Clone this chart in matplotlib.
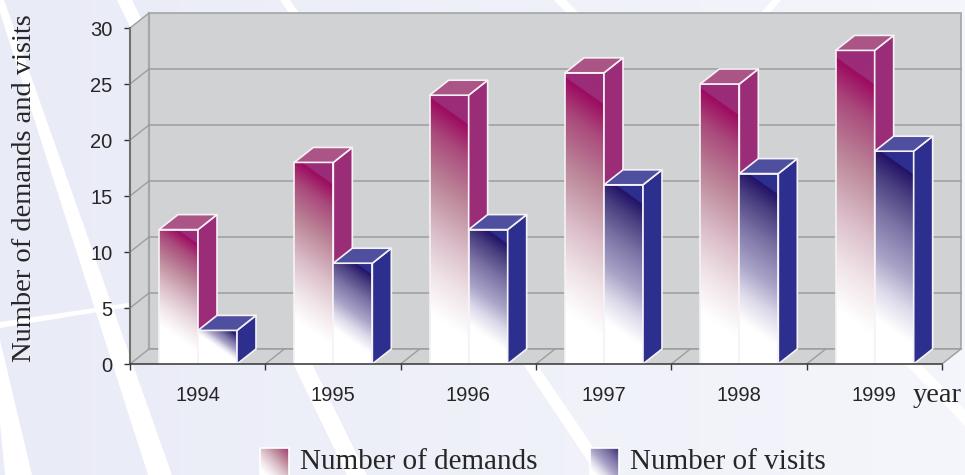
import matplotlib
matplotlib.use('Agg')
import matplotlib.pyplot as plt
import numpy as np
from matplotlib.colors import LinearSegmentedColormap, to_rgb
from matplotlib.patches import Polygon

years = ['1994', '1995', '1996', '1997', '1998', '1999']
demands = [12, 18, 24, 26, 25, 28]
visits = [3, 9, 12, 16, 17, 19]
y_ticks = [0, 5, 10, 15, 20, 25, 30]

W, H = 965, 475
SERIF = ['Liberation Serif', 'DejaVu Serif']
SANS = ['Liberation Sans', 'DejaVu Sans']
TEXT = '#262626'

# white ribbons of the page background, in pixels
ribbons = [
    [(-8, 340), (0, 340), (32, 475), (5, 475)],
    [(-4, 0), (4, 0), (172, 475), (148, 475)],
    [(117, 0), (132, 0), (367, 475), (347, 475)],
    [(280, 0), (290, 0), (612, 475), (597, 475)],
    [(554, 0), (566, 0), (965, 410), (965, 426)],
    [(772, 0), (781, 0), (769, 14), (760, 14)],
    [(0, 322), (135, 302), (135, 306), (0, 328)],
]

stops = [0, .12, .3, .5, .65, .8, 1]
demand_cmap = LinearSegmentedColormap.from_list('demand', list(zip(stops, [
    '#9c0a60', '#aa4a7c', '#bc8799', '#dcc0cb', '#f0e4e8', '#ffffff', '#ffffff'])))
visit_cmap = LinearSegmentedColormap.from_list('visit', list(zip(stops, [
    '#221266', '#4a3f80', '#7d74a6', '#aaa4c8', '#dcdaea', '#ffffff', '#ffffff'])))

fig = plt.figure(figsize=(W / 100, H / 100), dpi=100)

# page background + legend, pixel coordinates
bg = fig.add_axes([0, 0, 1, 1], zorder=0)
bg.set_xlim(0, W)
bg.set_ylim(H, 0)
bg.axis('off')
left_col = np.array(to_rgb('#e9ebf7'))
right_col = np.array(to_rgb('#f5f6fb'))
ramp = np.linspace(0, 1, 200)[None, :, None]
bg.imshow(left_col + (right_col - left_col) * ramp, extent=(0, W, H, 0), aspect='auto')
for pts in ribbons:
    bg.add_patch(Polygon(pts, closed=True, fc='white', ec='none'))
bg.set_xlim(0, W)
bg.set_ylim(H, 0)

# chart axes, one unit = one category / one demand
ax = fig.add_axes([130 / W, 1 - 364 / H, 812 / W, 336 / H], zorder=1)
ax.patch.set_alpha(0)
ax.set_xlim(0, 6)
ax.set_ylim(0, 30)
ax.set_autoscale_on(False)

px_x = 812 / 6
px_y = 336 / 30
DX = 19 / px_x
DY = 15 / px_y
BAR_W = 39 / px_x
BAR_OFF = 29 / px_x

# walls and floor
WALL = '#d1d2d4'
GRID = '#9c9d9f'
ax.add_patch(Polygon([(0, 0), (DX, DY), (DX, 30 + DY), (0, 30)], fc=WALL, ec='none', clip_on=False, zorder=1))
ax.add_patch(Polygon([(DX, DY), (6 + DX, DY), (6 + DX, 30 + DY), (DX, 30 + DY)], fc=WALL, ec='#a3a4a6', lw=1.2, clip_on=False, zorder=1))
ax.add_patch(Polygon([(0, 0), (6, 0), (6 + DX, DY), (DX, DY)], fc=WALL, ec='none', clip_on=False, zorder=1))
ax.plot([DX, DX], [DY, 30 + DY], color='#a6a7a9', lw=1.6, clip_on=False, zorder=2)
for v in y_ticks:
    ax.plot([0, DX], [v, v + DY], color=GRID, lw=1, clip_on=False, zorder=2)
    if v > 0 and v < 30:
        ax.plot([DX, 6 + DX], [v + DY, v + DY], color=GRID, lw=1.1, clip_on=False, zorder=2)
ax.plot([DX, 6 + DX], [DY, DY], color=GRID, lw=1.1, clip_on=False, zorder=2)
for i in range(1, 7):
    ax.plot([i, i + DX], [0, DY], color=GRID, lw=1, clip_on=False, zorder=2)


def front_image(value, cmap, flat):
    # gradient runs across the face, flat corner is left above the diagonal
    h = value * px_y
    u, v = np.meshgrid(np.linspace(0, 1, 80), np.linspace(0, 1, max(int(h) * 2, 40)))
    t = v - 0.11 - 0.7 * (39 / h) * (u - 1)
    img = cmap(np.clip(t, 0, 1))[:, :, :3]
    img[t < 0] = to_rgb(flat)
    return img


def draw_bar(x, value, cmap, side, top, z):
    img = front_image(value, cmap, side)
    ax.imshow(img, extent=(x, x + BAR_W, 0, value), origin='upper', aspect='auto',
              interpolation='bilinear', clip_on=False, zorder=z)
    edge = dict(ec='#f6f2f6', lw=1.2, clip_on=False, zorder=z + .1, joinstyle='round')
    ax.add_patch(Polygon([(x, 0), (x + BAR_W, 0), (x + BAR_W, value), (x, value)], fc='none', **edge))
    ax.add_patch(Polygon([(x + BAR_W, 0), (x + BAR_W + DX, DY), (x + BAR_W + DX, value + DY), (x + BAR_W, value)], fc=side, **edge))
    ax.add_patch(Polygon([(x, value), (x + BAR_W, value), (x + BAR_W + DX, value + DY), (x + DX, value + DY)], fc=top, **edge))


for i in range(len(years)):
    x0 = i + BAR_OFF
    draw_bar(x0, demands[i], demand_cmap, '#9b2c78', '#ab5587', 3 + i)
    draw_bar(x0 + BAR_W, visits[i], visit_cmap, '#2d2f8f', '#4f4f9f', 3.5 + i)

ax.set_xlim(0, 6)
ax.set_ylim(0, 30)

# axes lines, ticks, labels
for name in ['top', 'right']:
    ax.spines[name].set_visible(False)
ax.spines['left'].set_color('#6f7072')
ax.spines['left'].set_linewidth(1.5)
ax.spines['left'].set_zorder(20)
ax.spines['bottom'].set_color('#333333')
ax.spines['bottom'].set_linewidth(1.1)
ax.spines['bottom'].set_zorder(20)
ax.set_yticks(y_ticks)
ax.set_yticklabels([str(v) for v in y_ticks], fontfamily=SANS, fontsize=14.5, color=TEXT)
ax.tick_params(axis='y', length=4.5, width=1, color='#333333', pad=8)
ax.set_xticks(range(7))
ax.set_xticklabels([])
ax.tick_params(axis='x', which='major', length=4.5, width=1, color='#333333')
ax.set_xticks(np.arange(6) + 0.5, minor=True)
ax.set_xticklabels(years, minor=True, fontfamily=SANS, fontsize=14.5, color=TEXT)
ax.tick_params(axis='x', which='minor', length=0, pad=16)
ax.set_ylabel('Number of demands and visits', fontfamily=SERIF, fontsize=20.5, color=TEXT)
ax.yaxis.set_label_coords(-93 / 812, 176 / 336)
ax.text(5.967, -31 / px_y, 'year', fontfamily=SERIF, fontsize=20.5, color=TEXT,
        ha='center', va='center', clip_on=False, zorder=20)

# legend
legend_labels = ['Number of demands', 'Number of visits']
legend_x = [260, 590]
legend_cmaps = [demand_cmap, visit_cmap]
for lx, label, cmap in zip(legend_x, legend_labels, legend_cmaps):
    u, v = np.meshgrid(np.linspace(0, 1, 30), np.linspace(0, 1, 30))
    bg.imshow(cmap(np.clip(0.08 + (1 - u + v) * 0.42, 0, 1))[:, :, :3],
              extent=(lx, lx + 29, 478, 448), aspect='auto', zorder=3)
    bg.add_patch(Polygon([(lx, 448), (lx + 29, 448), (lx + 29, 478), (lx, 478)], fc='none', ec='white', lw=1.2, zorder=4))
    bg.text(lx + 40, 469, label, fontfamily=SERIF, fontsize=21, color=TEXT, va='baseline', ha='left', zorder=5)
bg.set_xlim(0, W)
bg.set_ylim(H, 0)

fig.savefig('out.png', dpi=100)
